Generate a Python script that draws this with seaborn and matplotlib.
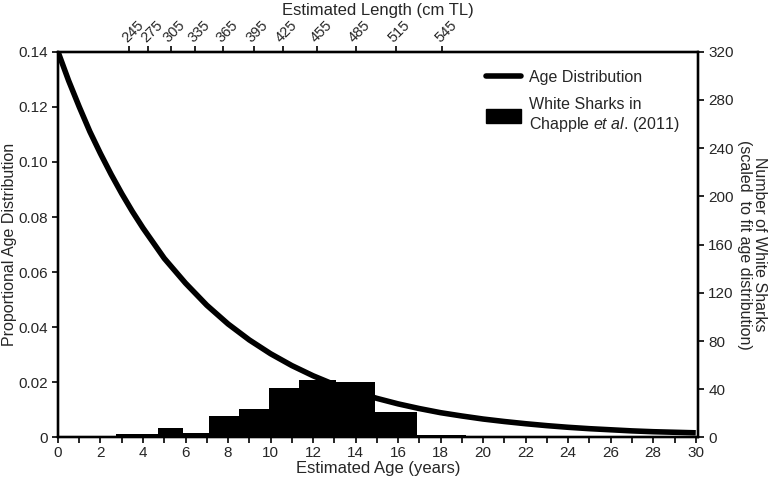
import seaborn as sns
import matplotlib.pyplot as plt
import pandas as pd
import numpy as np
from matplotlib.lines import Line2D
from matplotlib.patches import Patch

sns.set_style("ticks")
plt.rcParams['font.family'] = ['Liberation Sans', 'DejaVu Sans']
plt.rcParams['mathtext.fontset'] = 'custom'
plt.rcParams['mathtext.it'] = 'Liberation Sans:italic'
plt.rcParams['mathtext.rm'] = 'Liberation Sans'

# age distribution curve
ages = [0, 0.5, 1, 1.5, 2, 2.5, 3, 3.5, 4, 4.5, 5, 5.5, 6, 7, 8, 9, 10, 11, 12,
        13, 14, 15, 16, 17, 18, 19, 20, 21, 22, 23, 24, 25, 26, 27, 28, 29, 30]
prop = [0.140, 0.1295, 0.120, 0.111, 0.103, 0.0955, 0.0885, 0.082, 0.0760,
        0.0705, 0.0650, 0.0605, 0.0560, 0.0480, 0.0412, 0.0354, 0.0304, 0.0261,
        0.0224, 0.0192, 0.0165, 0.0142, 0.0122, 0.0105, 0.0090, 0.0078, 0.0067,
        0.0058, 0.0050, 0.0043, 0.0037, 0.0032, 0.0028, 0.0024, 0.0021, 0.0019,
        0.0017]

# white shark counts per (length based) age bin
bin_edges = [2.74, 4.72, 5.9, 7.12, 8.52, 9.92, 11.32, 13.1, 14.9, 16.9, 19.2]
shark_counts = [3, 8, 4, 18, 24, 41, 48, 46, 21, 2]

# top axis: length labels at their age positions
length_pos = [3.35, 4.25, 5.32, 6.46, 7.78, 9.2, 10.57, 12.2, 14.0, 15.9, 18.07]
length_lab = ["245", "275", "305", "335", "365", "395", "425", "455", "485", "515", "545"]

centers = [(a + b) / 2 for a, b in zip(bin_edges[:-1], bin_edges[1:])]
df_bars = pd.DataFrame({"age": centers, "n": shark_counts})
df_curve = pd.DataFrame({"age": ages, "prop": prop})

fig = plt.figure(figsize=(7.72, 4.86), dpi=100)
ax = fig.add_axes([0.0751, 0.0998, 0.8289, 0.7938])
ax2 = ax.twinx()
ax3 = ax.twiny()

sns.histplot(data=df_bars, x="age", weights="n", bins=bin_edges, ax=ax2,
             color="black", alpha=1, linewidth=0, element="bars")
sns.lineplot(data=df_curve, x="age", y="prop", ax=ax, color="black", lw=4,
             solid_capstyle="butt")

ax.set_xlim(0, 30.1)
ax.set_ylim(0, 0.14)
ax2.set_ylim(0, 320)
ax3.set_xlim(ax.get_xlim())

ax.set_xticks(np.arange(0, 31, 2))
ax.set_xticks(np.arange(1, 31, 2), minor=True)
ax.set_yticks(np.arange(0, 0.141, 0.02))
ax.set_yticklabels(["0"] + ["%.2f" % v for v in np.arange(0.02, 0.141, 0.02)])
ax2.set_yticks(np.arange(0, 321, 40))
ax3.set_xticks(length_pos)
ax3.set_xticklabels(length_lab, rotation=45, ha="left", rotation_mode="anchor")

for a in (ax, ax2, ax3):
    a.tick_params(axis="both", which="both", length=4, width=1.2, labelsize=11,
                  color="black", direction="out")
    for s in a.spines.values():
        s.set_linewidth(1.6)
        s.set_color("black")
ax.tick_params(axis="x", pad=2)
ax3.tick_params(axis="x", labelsize=10.5, pad=1)

ax.set_xlabel("Estimated Age (years)", fontsize=12, labelpad=1)
ax.set_ylabel("Proportional Age Distribution", fontsize=11.5, labelpad=1)
ax2.set_ylabel("Number of White Sharks\n(scaled  to fit age distribution)",
               fontsize=11.5, rotation=270, labelpad=24, linespacing=1.0)
ax2.set_xlabel("")
ax3.set_xlabel("Estimated Length (cm TL)", fontsize=12, labelpad=2)

handles = [Line2D([0], [0], color="black", lw=4),
           Patch(facecolor="black", edgecolor="black")]
labels = ["Age Distribution", "White Sharks in\nChapple $\\it{et\\ al.}\\,$(2011)"]
ax2.legend(handles, labels, loc="upper right", bbox_to_anchor=(0.995, 0.99),
           frameon=False, fontsize=11.5, handlelength=2.2, handleheight=0.9,
           labelspacing=0.75, handletextpad=0.5)

fig.savefig("out.png", dpi=100)
